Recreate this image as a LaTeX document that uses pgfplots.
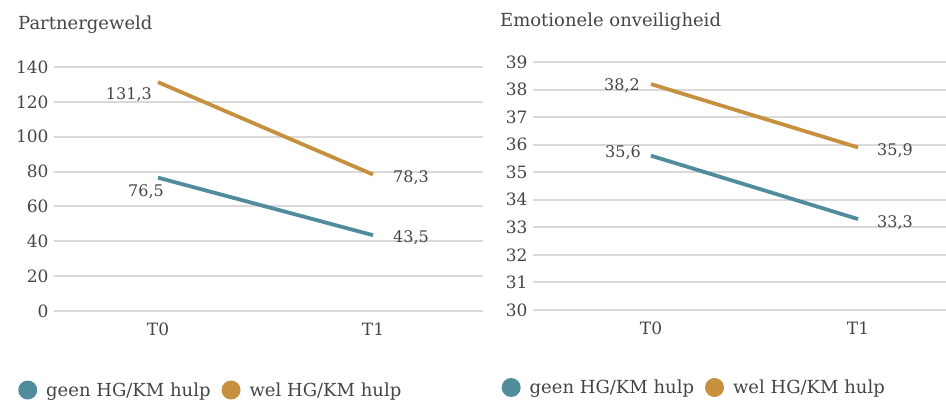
\documentclass[border=0pt]{standalone}
\usepackage{pgfplots}
\pgfplotsset{compat=1.18}
\usepackage{fontspec}
\setmainfont{DejaVu Serif}
\definecolor{txt}{HTML}{454545}
\definecolor{gridc}{HTML}{D9D9D9}
\definecolor{teal}{HTML}{518C9C}
\definecolor{oran}{HTML}{C6903F}
\newcommand{\fs}{\fontsize{16}{19}\selectfont}
\newcommand{\ft}{\fontsize{17}{20}\selectfont}
\newcommand{\fl}{\fontsize{18}{21}\selectfont}
\begin{document}
\begin{tikzpicture}[every node/.style={text=txt}]
\path[use as bounding box] (0,0) rectangle (946pt,400pt);
\pgfplotsset{
  myax/.style={
    scale only axis,
    anchor=south west,
    axis line style={draw=none},
    tick style={draw=none},
    ymajorgrids,
    major grid style={gridc, line width=2pt},
    xtick={0,1},
    xticklabels={T0,T1},
    /pgf/number format/assume math mode=true,
    tick label style={font=\ft, text=txt},
    yticklabel style={xshift=-2pt},
    xticklabel style={yshift=-8pt},
    clip=false,
    legend columns=2,
    legend style={draw=none, fill=none, inner sep=0pt, font=\fl, text=txt,
      cells={anchor=west, inner xsep=0pt},
      /tikz/every even column/.append style={column sep=9pt}},
    legend image code/.code={\path[draw=none,fill=none] (0,-1pt) rectangle (26pt,1pt); \fill[##1,draw=none] (9.5pt,0) circle (9.5pt);},
  }
}
% Left panel
\begin{axis}[myax,
  at={(54pt,89pt)}, width=429pt, height=244pt,
  xmin=-0.4837, xmax=1.5116, ymin=0, ymax=140,
  ytick={0,20,...,140},
  legend style={at={(axis description cs:-0.0839,-0.3238)}, anchor=west},
]
\addplot[teal, line width=3.8pt] coordinates {(0,76.5) (1,43.5)};
\addlegendentry{geen HG/KM hulp}
\addplot[oran, line width=3.8pt] coordinates {(0,131.3) (1,78.3)};
\addlegendentry{wel HG/KM hulp}
\node[font=\fs, inner sep=0pt, anchor=east, xshift=-6pt, yshift=-12pt] at (axis cs:0,131.3) {131,3};
\node[font=\fs, inner sep=0pt, anchor=east, xshift=6pt, yshift=-14pt] at (axis cs:0,76.5) {76,5};
\node[font=\fs, inner sep=0pt, anchor=west, xshift=20pt, yshift=-3pt] at (axis cs:1,78.3) {78,3};
\node[font=\fs, inner sep=0pt, anchor=west, xshift=20pt, yshift=-2pt] at (axis cs:1,43.5) {43,5};
\end{axis}
% Right panel
\begin{axis}[myax,
  at={(533pt,90pt)}, width=413pt, height=248pt,
  xmin=-0.570, xmax=1.425, ymin=30, ymax=39,
  ytick={30,31,...,39},
  legend style={at={(axis description cs:-0.0763,-0.3125)}, anchor=west},
]
\addplot[teal, line width=3.8pt] coordinates {(0,35.6) (1,33.3)};
\addlegendentry{geen HG/KM hulp}
\addplot[oran, line width=3.8pt] coordinates {(0,38.2) (1,35.9)};
\addlegendentry{wel HG/KM hulp}
\node[font=\fs, inner sep=0pt, anchor=east, xshift=-11pt, yshift=-2pt] at (axis cs:0,38.2) {38,2};
\node[font=\fs, inner sep=0pt, anchor=east, xshift=-10pt, yshift=3pt] at (axis cs:0,35.6) {35,6};
\node[font=\fs, inner sep=0pt, anchor=west, xshift=19pt, yshift=-3pt] at (axis cs:1,35.9) {35,9};
\node[font=\fs, inner sep=0pt, anchor=west, xshift=19pt, yshift=-4pt] at (axis cs:1,33.3) {33,3};
\end{axis}
\node[font=\fl, inner sep=0pt, anchor=west] at (18pt,375pt) {Partnergeweld};
\node[font=\fl, inner sep=0pt, anchor=west] at (500pt,378pt) {Emotionele onveiligheid};
\end{tikzpicture}
\end{document}
